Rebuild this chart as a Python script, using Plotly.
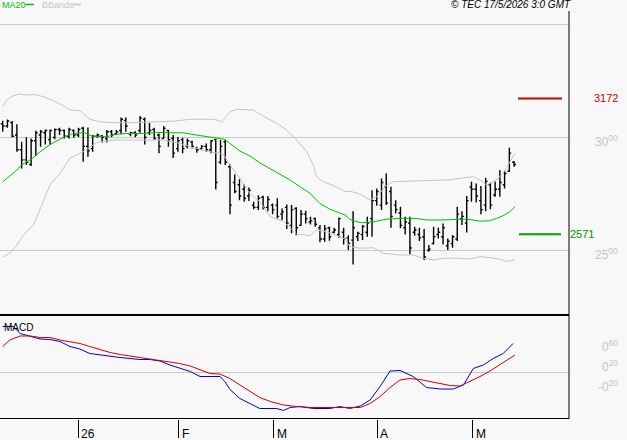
import plotly.graph_objects as go

# ---------------- data ----------------
OPEN = [3060,3050,3065,3010,2945,2900,2880,2985,3010,3020,
        2990,3000,3035,3030,3005,3030,3010,3040,2960,2950,
        3005,3005,2995,3025,3015,3030,3075,3015,3020,3030,
        3080,3020,3035,3010,2995,3030,2995,2950,2990,2960,
        2980,2950,2950,2960,2945,2990,2890,2980,2870,2800,
        2790,2770,2740,2700,2690,2735,2690,2700,2700,2660,
        2690,2610,2685,2610,2660,2625,2640,2600,2550,2600,
        2580,2570,2580,2555,2545,2560,2570,2580,2640,2720,
        2700,2780,2760,2700,2665,2600,2620,2580,2570,2560,
        2500,2530,2570,2560,2520,2530,2550,2640,2620,2780,
        2770,2720,2700,2790,2745,2770,2790,2850,2890]
HIGH = [3073,3079,3072,3058,2980,3000,2995,3029,3032,3035,
        3035,3039,3042,3035,3042,3035,3042,3047,3044,3010,
        3017,3010,3032,3032,3032,3088,3088,3025,3027,3094,
        3088,3064,3042,3017,3050,3032,3010,3002,2998,2995,
        2985,2958,2966,2973,2988,2995,2988,2988,2881,2836,
        2814,2791,2778,2715,2744,2741,2740,2707,2730,2685,
        2703,2700,2690,2678,2675,2648,2645,2612,2612,2604,
        2600,2645,2600,2567,2673,2582,2612,2648,2766,2774,
        2818,2840,2781,2722,2693,2648,2648,2604,2600,2594,
        2523,2604,2600,2619,2552,2567,2693,2673,2740,2803,
        2796,2784,2821,2799,2803,2855,2852,2954,2895]
LOW = [3025,3042,3000,2936,2862,2877,2873,2917,2958,2968,
       2966,2991,3010,2995,2995,2998,3002,2892,2914,2936,
       2998,2977,2977,3000,3010,3014,3025,3005,3000,3020,
       2968,3010,2988,2929,2995,2958,2909,2936,2929,2951,
       2951,2932,2943,2936,2929,2769,2881,2877,2659,2752,
       2722,2715,2718,2682,2678,2681,2673,2659,2641,2634,
       2594,2575,2567,2609,2619,2614,2604,2535,2538,2542,
       2575,2555,2526,2501,2437,2541,2545,2560,2560,2697,
       2678,2700,2600,2663,2597,2570,2482,2564,2541,2457,
       2493,2526,2552,2526,2501,2511,2541,2612,2579,2715,
       2712,2659,2673,2682,2737,2737,2774,2847,2870]
CLOSE = [3050,3072,3005,2945,2900,2890,2985,3020,3025,3030,
         3030,3035,3030,3005,3035,3010,3035,2960,2940,3005,
         3010,3000,3025,3010,3025,3080,3050,3020,3010,3085,
         3000,3030,2995,2960,3040,2990,2930,2985,2950,2985,
         2960,2945,2960,2945,2985,2800,2960,2890,2700,2760,
         2740,2730,2765,2690,2730,2690,2725,2680,2650,2670,
         2620,2680,2600,2660,2640,2630,2615,2550,2595,2560,
         2590,2640,2550,2530,2600,2575,2605,2620,2720,2760,
         2800,2710,2650,2680,2610,2625,2510,2590,2555,2470,
         2505,2560,2580,2600,2540,2560,2660,2650,2720,2770,
         2740,2680,2805,2700,2770,2800,2840,2930,2880]
BAR_INDEX = list(range(len(CLOSE)))

MA20_X = [0,3,3.9,6.1,7.9,10,12.1,14.2,16.3,17.4,
          18.8,20.6,22,23.7,26.2,29.7,32.5,36.4,38.1,41,
          45.2,46.9,50.1,52.2,54.3,56.5,58.6,60.7,62.8,64.9,
          67,69.1,72.3,73.3,75.5,78.3,81.1,83.9,87.4,89.5,
          92.4,95.2,98,100.8,102.8,104.3,105.7,107.1,108.2]
MA20_V = [2803,2855,2877,2904,2936,2968,2992,3013,3020,3020,
          3005,3002,3002,3013,3017,3017,3022,3020,3020,3010,
          2998,2991,2939,2918,2887,2862,2836,2811,2781,2752,
          2707,2682,2656,2637,2622,2626,2638,2641,2641,2634,
          2634,2637,2638,2629,2631,2641,2653,2671,2693]

BB_UP_X = [0,0.8,2.2,3.7,5.1,6.5,8.6,10.7,12.8,14.2,
           16.3,17.4,18.4,20.5,23.4,27.6,31.1,36.4,39.6,44.5,
           46.3,48,49.4,52.9,55,57.9,60,62.1,64.2,65.6,
           66.3,67.7,70.5,72.3,73.3,75.5,77.6,79,81.1,82.5,
           88.8,93.8,99.4,100.8,102.2,104.3,105.7,107.1,108.2]
BB_UP_V = [3135,3165,3184,3192,3187,3190,3180,3162,3140,3121,
           3118,3099,3080,3069,3065,3065,3069,3072,3080,3080,
           3069,3113,3124,3121,3094,3062,3032,2988,2936,2877,
           2826,2804,2781,2759,2762,2748,2723,2737,2789,2804,
           2808,2811,2826,2811,2789,2811,2841,2892,2929]
BB_LO_X = [0,1.5,3,4.4,6.5,7.9,10,12.1,14.2,17,
           19.9,23.7,27.6,33.9,36.4,37.4,39.6,43.8,46.6,48,
           50.1,52.2,54.3,56.5,59.3,62.1,64.9,66.3,68.4,72.3,
           73.3,75.5,78.3,80.4,83.9,86.7,88.8,90.9,93.1,95.9,
           98.7,100.8,102.9,105,106.4,108.2]
BB_LO_V = [2469,2487,2523,2568,2612,2686,2789,2841,2907,2936,
           2978,2988,2988,2988,2978,2973,2958,2936,2925,2877,
           2819,2750,2715,2649,2627,2572,2565,2590,2582,2550,
           2516,2509,2511,2487,2479,2479,2465,2457,2465,2465,
           2461,2472,2467,2461,2450,2457]

MACD_X = [0,2.2,3.7,5.8,7.9,10,12.1,14.2,16.3,18.4,
          20.5,22.7,24.8,26.9,29,31.1,33.2,35.3,37.4,39.6,
          41.7,43.8,45.9,46.9,48,50.1,52.2,54.3,55.8,57.9,
          59.3,60.7,62.8,65.6,69.1,71.2,73.3,75.5,77.6,79.7,
          81.8,83.9,86.7,89.5,92.4,95.2,97.3,99.4,101.5,103.6,
          105.7,107.8]
MACD_V = [0.91,0.91,0.77,0.71,0.66,0.65,0.61,0.51,0.46,0.37,
          0.34,0.31,0.29,0.27,0.25,0.25,0.22,0.14,0.07,0.01,
          -0.09,-0.09,-0.09,-0.19,-0.35,-0.53,-0.63,-0.73,-0.73,-0.73,
          -0.77,-0.71,-0.69,-0.73,-0.73,-0.69,-0.73,-0.68,-0.56,-0.29,
          0.02,0.03,-0.09,-0.31,-0.34,-0.34,-0.26,0.07,0.14,0.27,
          0.37,0.57]
SIGNAL_X = [0,1.5,3.7,5.8,7.9,10,12.1,14.2,16.3,18.4,
            20.5,22.7,24.8,26.9,29,31.1,33.2,35.3,37.4,39.6,
            41.7,43.8,45.9,48,50.1,52.2,54.3,56.5,59.3,62.1,
            64.9,75.5,77.6,79.7,81.8,83.9,86,88.1,90.2,92.4,
            94.5,96.6,98.7,100.8,102.9,105,108.2]
SIGNAL_V = [0.51,0.64,0.72,0.72,0.69,0.69,0.64,0.61,0.57,0.51,
            0.45,0.39,0.35,0.32,0.29,0.27,0.24,0.21,0.17,0.12,
            0.04,-0.03,-0.04,-0.13,-0.26,-0.39,-0.51,-0.59,-0.66,-0.69,
            -0.71,-0.71,-0.63,-0.49,-0.31,-0.16,-0.13,-0.15,-0.19,-0.24,
            -0.27,-0.28,-0.19,-0.09,0.02,0.14,0.34]

MONTH_TICKS = [15.97, 37.2, 57.2, 79.1, 99.3]
MONTH_LABELS = ["26", "F", "M", "A", "M"]
PRICE_GRID = [2500, 3000, 3500]
PRICE_LABELS = [(2500, "25<sup>00</sup>"), (3000, "30<sup>00</sup>")]
MACD_LABELS = [(0.6, "0<sup>60</sup>"), (0.2, "0<sup>20</sup>"), (-0.2, "-0<sup>20</sup>")]
RESISTANCE = 3172
SUPPORT = 2571
HEADER = "© TEC 17/5/2026 3:0 GMT"

# ---------------- layout constants ----------------
W, H = 627, 440
PLOT_W = 569
PLOT_H = 419
BG = "#f8f8f8"
GRID = "#c8c8c8"
FONT = "Liberation Sans, Arial, sans-serif"


def px_x(p):
    return p / PLOT_W


def px_y(p):
    return (PLOT_H - p) / PLOT_H


fig = go.Figure()

fig.add_trace(go.Scatter(x=BB_UP_X, y=BB_UP_V, mode="lines",
                         line=dict(color="#c4c4c4", width=1), hoverinfo="skip",
                         xaxis="x", yaxis="y"))
fig.add_trace(go.Scatter(x=BB_LO_X, y=BB_LO_V, mode="lines",
                         line=dict(color="#c4c4c4", width=1), hoverinfo="skip",
                         xaxis="x", yaxis="y"))
fig.add_trace(go.Scatter(x=MA20_X, y=MA20_V, mode="lines",
                         line=dict(color="#00c000", width=1), hoverinfo="skip",
                         xaxis="x", yaxis="y"))
fig.add_trace(go.Ohlc(x=BAR_INDEX, open=OPEN, high=HIGH, low=LOW, close=CLOSE,
                      increasing=dict(line=dict(color="black", width=1.4)),
                      decreasing=dict(line=dict(color="black", width=1.4)),
                      tickwidth=0.4, hoverinfo="skip", xaxis="x", yaxis="y"))
fig.add_trace(go.Scatter(x=MACD_X, y=MACD_V, mode="lines",
                         line=dict(color="#0000d0", width=1), hoverinfo="skip",
                         xaxis="x2", yaxis="y2"))
fig.add_trace(go.Scatter(x=SIGNAL_X, y=SIGNAL_V, mode="lines",
                         line=dict(color="#d00000", width=1), hoverinfo="skip",
                         xaxis="x2", yaxis="y2"))

XR = [-0.57, 119.6]
fig.update_layout(
    width=W, height=H,
    margin=dict(l=0, r=W - PLOT_W, t=0, b=H - PLOT_H),
    paper_bgcolor=BG, plot_bgcolor=BG,
    showlegend=False,
    xaxis=dict(domain=[0, 1], range=XR, anchor="y", showticklabels=False,
               showgrid=False, zeroline=False, showline=False, ticks="",
               rangeslider=dict(visible=False), fixedrange=True),
    yaxis=dict(domain=[103 / PLOT_H, 1], range=[2209, 3608], anchor="x",
               tickvals=PRICE_GRID, showticklabels=False, ticks="",
               showgrid=True, gridcolor=GRID, gridwidth=1, zeroline=False,
               showline=False, fixedrange=True),
    xaxis2=dict(domain=[0, 1], range=XR, anchor="y2", matches="x",
                tickvals=MONTH_TICKS, showticklabels=False, ticks="outside",
                ticklen=18, tickcolor="black", tickwidth=1,
                showgrid=False, zeroline=False, showline=False, fixedrange=True),
    yaxis2=dict(domain=[0, 102 / PLOT_H], range=[-0.94, 1.10], anchor="x2",
                tickvals=[0], showticklabels=False, ticks="",
                showgrid=True, gridcolor=GRID, gridwidth=1, zeroline=False,
                showline=False, fixedrange=True),
)

shapes = [
    dict(type="line", xref="paper", yref="paper", x0=0, x1=1,
         y0=px_y(315), y1=px_y(315), line=dict(color="black", width=2)),
    dict(type="line", xref="paper", yref="paper", x0=0, x1=1,
         y0=px_y(418.5), y1=px_y(418.5), line=dict(color="black", width=1)),
    dict(type="line", xref="paper", yref="paper", x0=px_x(569), x1=px_x(569),
         y0=px_y(11), y1=px_y(419), line=dict(color="black", width=1)),
    dict(type="line", xref="paper", yref="y", x0=px_x(518), x1=px_x(562),
         y0=RESISTANCE, y1=RESISTANCE, line=dict(color="#cc0000", width=2)),
    dict(type="line", xref="paper", yref="y", x0=px_x(519), x1=px_x(561),
         y0=SUPPORT, y1=SUPPORT, line=dict(color="#00a000", width=2)),
    dict(type="line", xref="paper", yref="paper", x0=px_x(25.5), x1=px_x(34),
         y0=px_y(4.5), y1=px_y(4.5), line=dict(color="#00c000", width=1.5)),
    dict(type="line", xref="paper", yref="paper", x0=px_x(73), x1=px_x(81),
         y0=px_y(4.5), y1=px_y(4.5), line=dict(color="#c4c4c4", width=1.5)),
]
fig.update_layout(shapes=shapes)

ann = []
ann.append(dict(text="MA20", xref="paper", yref="paper", x=px_x(0), y=px_y(5),
                xanchor="left", yanchor="middle", showarrow=False,
                font=dict(family=FONT, size=9, color="#00c000")))
ann.append(dict(text="BBands", xref="paper", yref="paper", x=px_x(40), y=px_y(5),
                xanchor="left", yanchor="middle", showarrow=False,
                font=dict(family=FONT, size=9, color="#c4c4c4")))
ann.append(dict(text="<i>" + HEADER + "</i>", xref="paper", yref="paper",
                x=px_x(511), y=px_y(4.5), xanchor="center", yanchor="middle",
                showarrow=False, font=dict(family=FONT, size=10, color="black")))
ann.append(dict(text="MACD", xref="paper", yref="paper", x=px_x(2), y=px_y(327.5),
                xanchor="left", yanchor="middle", showarrow=False,
                font=dict(family=FONT, size=10, color="black")))
for v, t in PRICE_LABELS:
    ann.append(dict(text=t, xref="paper", yref="y", x=px_x(620), y=v, yshift=-4,
                    xanchor="right", yanchor="middle", showarrow=False,
                    font=dict(family=FONT, size=12, color="#c4c4c4")))
for v, t in MACD_LABELS:
    ann.append(dict(text=t, xref="paper", yref="y2", x=px_x(620), y=v, yshift=-4,
                    xanchor="right", yanchor="middle", showarrow=False,
                    font=dict(family=FONT, size=12, color="#c4c4c4")))
ann.append(dict(text=str(RESISTANCE), xref="paper", yref="y", x=px_x(592), y=RESISTANCE,
                xanchor="left", yanchor="middle", showarrow=False,
                font=dict(family=FONT, size=11, color="#cc0000")))
ann.append(dict(text=str(SUPPORT), xref="paper", yref="y", x=px_x(568), y=SUPPORT,
                xanchor="left", yanchor="middle", showarrow=False,
                font=dict(family=FONT, size=11, color="#009000")))
for tv, tl in zip(MONTH_TICKS, MONTH_LABELS):
    ann.append(dict(text=tl, xref="x2", yref="paper", x=tv, xshift=1,
                    y=px_y(433.5), xanchor="left", yanchor="middle", showarrow=False,
                    font=dict(family=FONT, size=12, color="black")))
fig.update_layout(annotations=ann)

fig.write_html("out.html", config=dict(displayModeBar=False))
